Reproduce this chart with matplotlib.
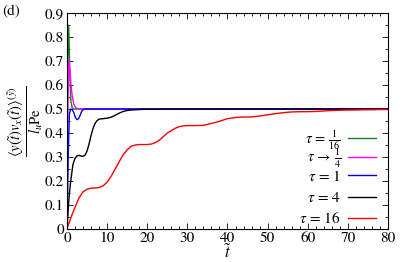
import matplotlib
matplotlib.use("Agg")
from matplotlib import pyplot as plt
from matplotlib.legend import Legend
from matplotlib.ticker import MultipleLocator

# DATA
t_g = [0, 0.15, 0.3, 0.45, 0.6, 0.8, 1.0, 1.3, 1.8, 80]
y_g = [0, 0.6, 0.85, 0.84, 0.72, 0.6, 0.53, 0.505, 0.5, 0.5]

t_m = [0, 0.2, 0.45, 0.7, 1.0, 1.3, 1.7, 2.2, 3.0, 80]
y_m = [0, 0.5, 0.70, 0.67, 0.60, 0.555, 0.52, 0.505, 0.5, 0.5]

t_b = [0, 0.3, 0.6, 0.9, 1.3, 1.7, 2.1, 2.5, 2.9, 3.3, 3.7, 4.2, 80]
y_b = [0, 0.3, 0.48, 0.5, 0.497, 0.485, 0.465, 0.456, 0.46, 0.475, 0.492, 0.5, 0.5]

t_k = [0, 0.3, 0.6, 1, 1.5, 2, 2.5, 3, 3.5, 4, 4.5, 5, 5.5, 6, 6.5, 7, 7.5, 8,
       9, 10, 11, 12, 13, 14, 15, 16, 18, 20, 25, 80]
y_k = [0, 0.08, 0.15, 0.21, 0.27, 0.295, 0.305, 0.307, 0.304, 0.303, 0.308,
       0.325, 0.355, 0.39, 0.42, 0.44, 0.452, 0.458, 0.46, 0.462, 0.466, 0.474,
       0.483, 0.49, 0.494, 0.496, 0.498, 0.499, 0.5, 0.5]

t_r = [0, 0.5, 1, 1.6, 2, 3, 4, 5, 6, 7, 8, 9, 10, 11, 12, 13, 14, 15, 16, 17,
       18, 19, 20, 21, 22, 23, 24, 25, 26, 27, 28, 29, 30, 32, 34, 36, 38, 40,
       42, 44, 46, 48, 50, 52, 54, 56, 58, 60, 62, 64, 66, 68, 70, 72, 74, 76,
       78, 80]
y_r = [0, 0.025, 0.048, 0.074, 0.09, 0.13, 0.155, 0.166, 0.170, 0.171, 0.173,
       0.18, 0.195, 0.22, 0.25, 0.28, 0.31, 0.33, 0.345, 0.35, 0.352, 0.352,
       0.352, 0.354, 0.36, 0.37, 0.385, 0.40, 0.41, 0.42, 0.427, 0.43, 0.431,
       0.431, 0.432, 0.44, 0.449, 0.46, 0.465, 0.467, 0.467, 0.471, 0.476,
       0.481, 0.485, 0.488, 0.489, 0.489, 0.490, 0.492, 0.494, 0.495, 0.496,
       0.496, 0.497, 0.497, 0.498, 0.498]

labels = [r"$\tau\,=\,\frac{1}{16}$", r"$\tau\,\rightarrow\,\frac{1}{4}$",
          r"$\tau\,=\,1$", r"$\tau\,=\,4$", r"$\tau\,=\,16$"]
colors = ["#1f7a1f", "#ff00ff", "#0000ff", "#000000", "#ff0000"]

plt.rcParams["font.family"] = "STIXGeneral"
plt.rcParams["mathtext.fontset"] = "stix"
plt.rcParams["font.size"] = 11

fig = plt.figure(figsize=(4.07, 2.62), dpi=100)
ax = fig.add_axes([0.1646, 0.126, 0.7887, 0.824])

series = [(t_g, y_g), (t_m, y_m), (t_b, y_b), (t_k, y_k), (t_r, y_r)]
lines = []
for (tt, yy), lab, col in zip(series, labels, colors):
    ln, = ax.plot(tt, yy, color=col, lw=1.0, label=lab)
    lines.append(ln)

ax.set_xlim(0, 80)
ax.set_ylim(0, 0.9)
ax.xaxis.set_major_locator(MultipleLocator(10))
ax.xaxis.set_minor_locator(MultipleLocator(2))
ax.yaxis.set_major_locator(MultipleLocator(0.1))
ax.yaxis.set_minor_locator(MultipleLocator(0.05))
ax.yaxis.set_major_formatter(plt.FuncFormatter(lambda v, p: "0" if v == 0 else "%.1f" % v))
ax.tick_params(which="both", direction="in", top=True, right=True, labelsize=11)
ax.tick_params(which="major", length=4, width=0.6, pad=2)
ax.tick_params(which="minor", length=2, width=0.6)
for s in ax.spines.values():
    s.set_linewidth(0.8)

ax.set_xlabel(r"$\tilde{t}$", fontsize=12, labelpad=-1)
ax.set_ylabel(r"$\frac{\langle y(\tilde{t})v_x(\tilde{t})\rangle^{(\tilde{y})}}{l_u\mathrm{Pe}}$",
              fontsize=15, labelpad=0)

# one legend per row so the rows are evenly spaced
row_y = [0.412, 0.328, 0.245, 0.144, 0.048]
row_fs = [10.5, 10.5, 11, 11, 11]
for ln, yy, fs in zip(lines, row_y, row_fs):
    leg = Legend(ax, [ln], [ln.get_label()], loc="center right", frameon=False,
                 markerfirst=False, fontsize=fs, handlelength=1.85 * 11 / fs,
                 handletextpad=0.45 * 11 / fs, borderpad=0, borderaxespad=0,
                 bbox_to_anchor=(0.963, yy))
    ax.add_artist(leg)

fig.text(0.005, 0.955, "(d)", fontsize=11, va="center")

fig.savefig("out.png", dpi=100)
